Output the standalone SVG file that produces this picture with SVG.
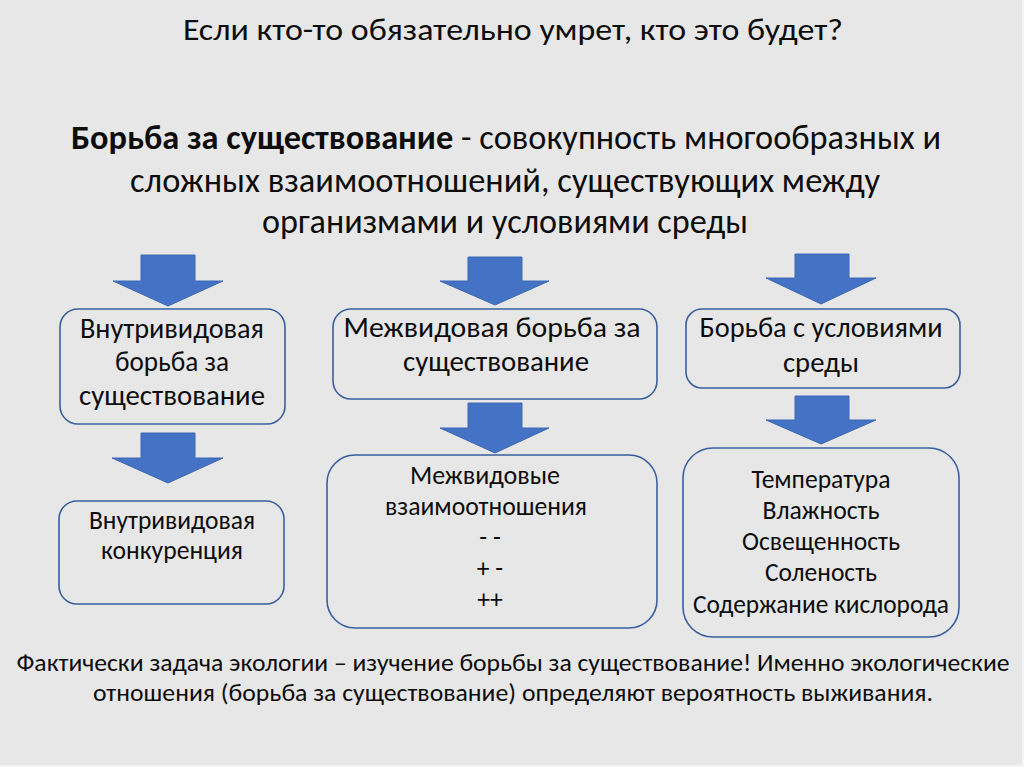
<svg xmlns="http://www.w3.org/2000/svg" width="1024" height="767" viewBox="0 0 1024 767">
<style>
text{font-family:Carlito,"Open Sans","Noto Sans",sans-serif;fill:#0d0d0d;text-anchor:middle}
.t{font-size:30px}
.d{font-size:35px}
.b{font-weight:bold}
.l{font-size:28px}
.s{font-size:25.6px}
.f{font-size:24px}
.box{fill:none;stroke:#3a5f9e;stroke-width:1.6}
.arr{fill:#4472c4;stroke:#3f68b5;stroke-width:1}
</style>
<rect x="0" y="0" width="1024" height="767" fill="#f4f4f4"/>
<rect x="0" y="0" width="1022" height="765" fill="#e7e7e7"/>
<g id="title">
<text class="t" x="513" y="40" textLength="660" lengthAdjust="spacingAndGlyphs">Если кто-то обязательно умрет, кто это будет?</text>
</g>
<g id="definition">
<text class="d" x="506" y="149" textLength="870" lengthAdjust="spacingAndGlyphs"><tspan class="b">Борьба за существование</tspan> - совокупность многообразных и</text>
<text class="d" x="505" y="192" textLength="750" lengthAdjust="spacingAndGlyphs">сложных взаимоотношений, существующих между</text>
<text class="d" x="505" y="233" textLength="486" lengthAdjust="spacingAndGlyphs">организмами и условиями среды</text>
</g>
<g id="connectors">
<polygon class="arr" points="141,255 195,255 195,281 223,281 168,306 113,281 141,281"/>
<polygon class="arr" points="141,433 195,433 195,458 223,458 168,483 112,458 141,458"/>
<polygon class="arr" points="468,257 522,257 522,281 549,281 495,305 440,281 468,281"/>
<polygon class="arr" points="468,403 522,403 522,428 549,428 495,453 440,428 468,428"/>
<polygon class="arr" points="795,254 849,254 849,278 876,278 821,304 766,278 795,278"/>
<polygon class="arr" points="795,396 849,396 849,420 876,420 821,444 766,420 795,420"/>
</g>
<g id="intraspecific">
<rect class="box" x="60" y="309" width="225" height="115" rx="18"/>
<text class="l" x="172" y="338" textLength="184" lengthAdjust="spacingAndGlyphs">Внутривидовая</text>
<text class="l" x="172" y="371" textLength="114" lengthAdjust="spacingAndGlyphs">борьба за</text>
<text class="l" x="172" y="405" textLength="186" lengthAdjust="spacingAndGlyphs">существование</text>
</g>
<g id="interspecific">
<rect class="box" x="333" y="309" width="324" height="90" rx="18"/>
<text class="l" x="492" y="337" textLength="297" lengthAdjust="spacingAndGlyphs">Межвидовая борьба за</text>
<text class="l" x="496" y="371" textLength="186" lengthAdjust="spacingAndGlyphs">существование</text>
</g>
<g id="environment">
<rect class="box" x="686" y="309" width="274" height="79" rx="16"/>
<text class="l" x="821" y="337" textLength="243" lengthAdjust="spacingAndGlyphs">Борьба с условиями</text>
<text class="l" x="821" y="372" textLength="76" lengthAdjust="spacingAndGlyphs">среды</text>
</g>
<g id="competition">
<rect class="box" x="59" y="501" width="225" height="103" rx="18"/>
<text class="s" x="172" y="529" textLength="166" lengthAdjust="spacingAndGlyphs">Внутривидовая</text>
<text class="s" x="172" y="559" textLength="142" lengthAdjust="spacingAndGlyphs">конкуренция</text>
</g>
<g id="relations">
<rect class="box" x="327" y="455" width="330" height="173" rx="28"/>
<text class="s" x="485" y="484" textLength="150" lengthAdjust="spacingAndGlyphs">Межвидовые</text>
<text class="s" x="486" y="515" textLength="202" lengthAdjust="spacingAndGlyphs">взаимоотношения</text>
<text class="s" x="490" y="546">- -</text>
<text class="s" x="490" y="577">+ -</text>
<text class="s" x="490" y="608">++</text>
</g>
<g id="factors">
<rect class="box" x="683" y="448" width="276" height="189" rx="30"/>
<text class="s" x="821" y="488" textLength="139" lengthAdjust="spacingAndGlyphs">Температура</text>
<text class="s" x="821" y="519" textLength="117" lengthAdjust="spacingAndGlyphs">Влажность</text>
<text class="s" x="821" y="550" textLength="158" lengthAdjust="spacingAndGlyphs">Освещенность</text>
<text class="s" x="821" y="581" textLength="112" lengthAdjust="spacingAndGlyphs">Соленость</text>
<text class="s" x="821" y="613" textLength="256" lengthAdjust="spacingAndGlyphs">Содержание кислорода</text>
</g>
<g id="conclusion">
<text class="f" x="513" y="671" textLength="993" lengthAdjust="spacingAndGlyphs">Фактически задача экологии – изучение борьбы за существование! Именно экологические</text>
<text class="f" x="513" y="701" textLength="840" lengthAdjust="spacingAndGlyphs">отношения (борьба за существование) определяют вероятность выживания.</text>
</g>
</svg>
